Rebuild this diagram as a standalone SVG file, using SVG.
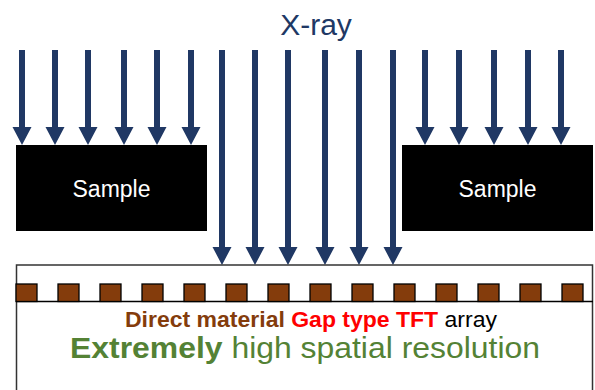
<svg xmlns="http://www.w3.org/2000/svg" xmlns:xlink="http://www.w3.org/1999/xlink" width="595" height="390" viewBox="0 0 595 390">
  <style>
    .ray { fill: #203864; }
    .sample { fill: #000000; }
    .label { font-family: "Liberation Sans", Arial, sans-serif; }
    .pix { fill: #843C0C; stroke: #000000; stroke-width: 1.3; }
    .b { font-weight: bold; }
  </style>
  <defs>
    <!-- beam stopped at the sample -->
    <path id="ray-short" d="M-3,0 H3 V77 H9.5 L0,95 L-9.5,77 H-3 Z"/>
    <!-- beam reaching the detector -->
    <path id="ray-long" d="M-3,0 H3 V197 H9.5 L0,215 L-9.5,197 H-3 Z"/>
  </defs>

  <rect width="595" height="390" fill="#ffffff"/>

  <g id="xray-label">
    <text class="label" x="316" y="35" font-size="30" fill="#203864" text-anchor="middle">X-ray</text>
  </g>

  <g id="connectors" class="ray">
    <use xlink:href="#ray-short" x="22" y="50"/>
    <use xlink:href="#ray-short" x="55" y="50"/>
    <use xlink:href="#ray-short" x="88" y="50"/>
    <use xlink:href="#ray-short" x="124" y="50"/>
    <use xlink:href="#ray-short" x="157" y="50"/>
    <use xlink:href="#ray-short" x="191" y="50"/>
    <use xlink:href="#ray-long" x="222" y="50"/>
    <use xlink:href="#ray-long" x="255" y="50"/>
    <use xlink:href="#ray-long" x="288" y="50"/>
    <use xlink:href="#ray-long" x="325" y="50"/>
    <use xlink:href="#ray-long" x="359" y="50"/>
    <use xlink:href="#ray-long" x="393" y="50"/>
    <use xlink:href="#ray-short" x="425" y="50"/>
    <use xlink:href="#ray-short" x="459" y="50"/>
    <use xlink:href="#ray-short" x="494" y="50"/>
    <use xlink:href="#ray-short" x="528" y="50"/>
    <use xlink:href="#ray-short" x="561" y="50"/>
  </g>

  <g id="sample-left">
    <rect class="sample" x="16" y="145" width="191" height="86"/>
    <text class="label" x="111.5" y="197" font-size="23" fill="#ffffff" text-anchor="middle">Sample</text>
  </g>

  <g id="sample-right">
    <rect class="sample" x="402" y="145" width="191" height="86"/>
    <text class="label" x="497.5" y="197" font-size="23" fill="#ffffff" text-anchor="middle">Sample</text>
  </g>

  <g id="detector">
    <rect x="16.5" y="265" width="576" height="140" fill="#ffffff" stroke="#333333" stroke-width="1.5"/>
    <line x1="16" y1="301.5" x2="593" y2="301.5" stroke="#000000" stroke-width="1.5"/>
    <g id="pixels">
      <rect class="pix" x="16" y="284" width="21" height="17.5"/>
      <rect class="pix" x="58" y="284" width="21" height="17.5"/>
      <rect class="pix" x="100" y="284" width="21" height="17.5"/>
      <rect class="pix" x="142" y="284" width="21" height="17.5"/>
      <rect class="pix" x="184" y="284" width="21" height="17.5"/>
      <rect class="pix" x="226" y="284" width="21" height="17.5"/>
      <rect class="pix" x="268" y="284" width="21" height="17.5"/>
      <rect class="pix" x="310" y="284" width="21" height="17.5"/>
      <rect class="pix" x="352" y="284" width="21" height="17.5"/>
      <rect class="pix" x="394" y="284" width="21" height="17.5"/>
      <rect class="pix" x="436" y="284" width="21" height="17.5"/>
      <rect class="pix" x="478" y="284" width="21" height="17.5"/>
      <rect class="pix" x="520" y="284" width="21" height="17.5"/>
      <rect class="pix" x="562" y="284" width="21" height="17.5"/>
    </g>
    <text class="label" x="125" y="327" font-size="22" textLength="372" lengthAdjust="spacingAndGlyphs"><tspan class="b" fill="#843C0C">Direct material </tspan><tspan class="b" fill="#FF0000">Gap type TFT </tspan><tspan fill="#000000">array</tspan></text>
    <text class="label" x="70" y="357.5" font-size="30" fill="#548235" textLength="470" lengthAdjust="spacingAndGlyphs"><tspan class="b">Extremely </tspan><tspan>high spatial resolution</tspan></text>
  </g>
</svg>
